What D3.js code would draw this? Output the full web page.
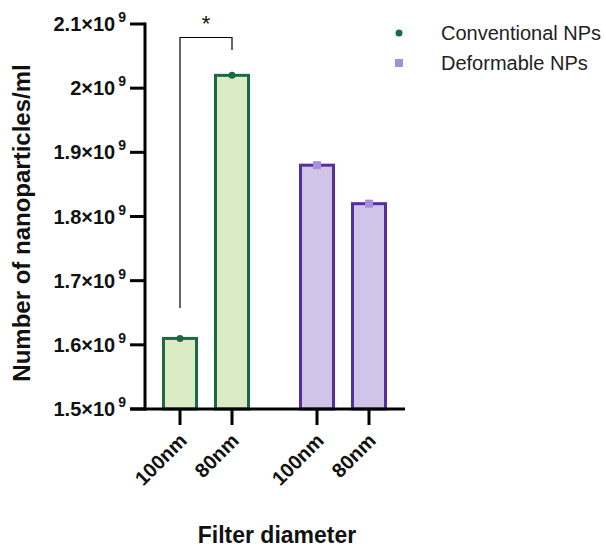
<!DOCTYPE html>
<html>
<head>
<meta charset="utf-8">
<script src="https://cdn.jsdelivr.net/npm/d3@7"></script>
<style>
  body { margin: 0; background: #fff; }
  svg { display: block; font-family: "Liberation Sans", Arial, sans-serif; }
</style>
</head>
<body>
<svg id="chart" width="606" height="550"></svg>
<script>
// data
var groups = ["Conventional NPs", "Deformable NPs"];
var filters = ["100nm", "80nm", "100nm", "80nm"];
var barGroup = [0, 0, 1, 1];
var values = [1.61e9, 2.02e9, 1.88e9, 1.82e9];
var yTicks = [1.5e9, 1.6e9, 1.7e9, 1.8e9, 1.9e9, 2.0e9, 2.1e9];

var strokeCols = ["#1a6b45", "#56309a"];
var fillCols = ["#dbebc3", "#d0c4e8"];
var markCols = ["#1a6b45", "#a98ed8"];

var svg = d3.select("#chart");

var y = d3.scaleLinear().domain([1.5e9, 2.1e9]).range([409, 24]);
// bar slots, with a gap between the two groups
var xPos = [180, 232, 317, 369];
var barW = 33;

// bars
var bars = svg.append("g").selectAll("rect")
    .data(values)
    .enter()
    .append("rect")
    .attr("x", function(d, i){ return xPos[i] - barW / 2; })
    .attr("y", function(d){ return y(d); })
    .attr("width", barW)
    .attr("height", function(d){ return y(1.5e9) - y(d); })
    .attr("fill", function(d, i){ return fillCols[barGroup[i]]; })
    .attr("stroke", function(d, i){ return strokeCols[barGroup[i]]; })
    .attr("stroke-width", 3);

// data points on top
values.forEach(function(v, i){
    var g = barGroup[i];
    if (g === 0) {
        svg.append("circle").attr("cx", xPos[i]).attr("cy", y(v)).attr("r", 3.5)
            .attr("fill", markCols[0]);
    } else {
        svg.append("rect").attr("x", xPos[i] - 4).attr("y", y(v) - 4)
            .attr("width", 8).attr("height", 8).attr("fill", markCols[1]);
    }
});

// y axis
var yAxis = svg.append("g").attr("transform", "translate(145,0)");
yAxis.append("line").attr("x1", 0).attr("x2", 0).attr("y1", y(2.1e9) - 1.5).attr("y2", y(1.5e9) + 1.5)
    .attr("stroke", "#000").attr("stroke-width", 3);
var yt = yAxis.selectAll(".tick").data(yTicks).enter().append("g")
    .attr("transform", function(d){ return "translate(0," + y(d) + ")"; });
yt.append("line").attr("x1", -15).attr("x2", 0).attr("stroke", "#000").attr("stroke-width", 3);
var ytxt = yt.append("text")
    .attr("x", -19).attr("y", 7)
    .attr("text-anchor", "end")
    .attr("font-size", 20).attr("font-weight", "bold").attr("fill", "#111");
ytxt.append("tspan").text(function(d){ return d3.format(".1~f")(d / 1e9) + "×10"; });
ytxt.append("tspan").attr("dy", -9).attr("font-size", 14).attr("dx", 3).text("9");

// x axis
svg.append("line").attr("x1", 130).attr("x2", 405).attr("y1", 409).attr("y2", 409)
    .attr("stroke", "#000").attr("stroke-width", 3);
var xt = svg.append("g").selectAll("g").data(filters).enter().append("g")
    .attr("transform", function(d, i){ return "translate(" + xPos[i] + ",409)"; });
xt.append("line").attr("y1", 0).attr("y2", 16).attr("stroke", "#000").attr("stroke-width", 3);
xt.append("text")
    .attr("transform", "translate(8,33) rotate(-45)")
    .attr("text-anchor", "end")
    .attr("font-size", 20).attr("font-weight", "bold").attr("fill", "#111")
    .text(function(d){ return d; });

// axis titles
svg.append("text").attr("x", 277).attr("y", 543).attr("text-anchor", "middle")
    .attr("font-size", 23).attr("font-weight", "bold").attr("fill", "#111")
    .text("Filter diameter");
svg.append("text").attr("transform", "translate(30,223) rotate(-90)").attr("text-anchor", "middle")
    .attr("font-size", 24).attr("font-weight", "bold").attr("fill", "#111")
    .text("Number of nanoparticles/ml");

// significance bracket
svg.append("path")
    .attr("d", "M" + xPos[0] + "," + 308 + "V37.5H" + xPos[1] + "V50")
    .attr("fill", "none").attr("stroke", "#000").attr("stroke-width", 1.2);
svg.append("text").attr("x", (xPos[0] + xPos[1]) / 2).attr("y", 31).attr("text-anchor", "middle")
    .attr("font-size", 22).attr("fill", "#111").text("*");

// legend
var leg = svg.append("g").attr("transform", "translate(399,33)");
leg.append("circle").attr("cx", 0).attr("cy", 0).attr("r", 3.5).attr("fill", markCols[0]);
leg.append("rect").attr("x", -4).attr("y", 26).attr("width", 8).attr("height", 8).attr("fill", markCols[1]);
leg.selectAll("text").data(groups).enter().append("text")
    .attr("x", 42).attr("y", function(d, i){ return 7 + i * 30; })
    .attr("font-size", 20).attr("fill", "#222")
    .text(function(d){ return d; });
</script>
</body>
</html>
